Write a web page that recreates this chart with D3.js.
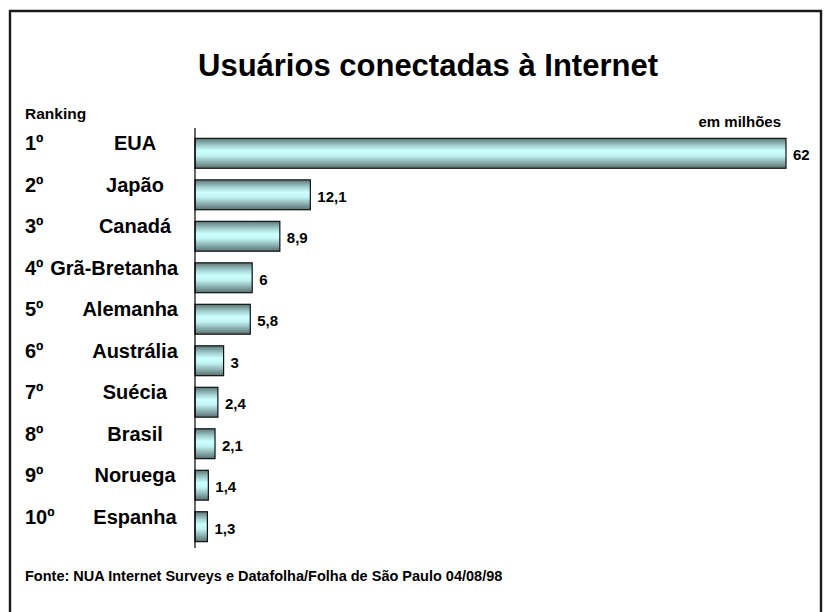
<!DOCTYPE html>
<html>
<head>
<meta charset="utf-8">
<script src="https://cdn.jsdelivr.net/npm/d3@7"></script>
<style>
  body { margin: 0; background: #fff; }
  svg text { font-family: "Liberation Sans", Arial, sans-serif; font-weight: bold; fill: #000; }
</style>
</head>
<body>
<svg id="chart"></svg>
<script>
var width = 826, height = 612;

// data (millions of users)
var ranks = ["1º", "2º", "3º", "4º", "5º", "6º", "7º", "8º", "9º", "10º"];
var countries = ["EUA", "Japão", "Canadá", "Grã-Bretanha", "Alemanha", "Austrália", "Suécia", "Brasil", "Noruega", "Espanha"];
var users = [62, 12.1, 8.9, 6, 5.8, 3, 2.4, 2.1, 1.4, 1.3];
var valueLabels = ["62", "12,1", "8,9", "6", "5,8", "3", "2,4", "2,1", "1,4", "1,3"];

var svg = d3.select("#chart").attr("width", width).attr("height", height);

// gradient used by the cylinder-like bars
var grad = svg.append("defs").append("linearGradient")
    .attr("id", "barGrad").attr("x1", 0).attr("y1", 0).attr("x2", 0).attr("y2", 1);
[[0, "#5c7474"], [0.1, "#7a9c9c"], [0.25, "#a4d2d2"], [0.42, "#ccffff"],
 [0.58, "#c2f4f4"], [0.78, "#8fb6b6"], [1, "#587070"]].forEach(function(s) {
  grad.append("stop").attr("offset", s[0]).attr("stop-color", s[1]);
});

// frame (no bottom edge visible)
svg.append("path")
   .attr("d", "M10,614 L10,11 L821,11 L821,614")
   .attr("fill", "none").attr("stroke", "#1a1a1a").attr("stroke-width", 2.4);

svg.append("text").attr("x", 428).attr("y", 76)
   .attr("text-anchor", "middle").style("font-size", "31px")
   .text("Usuários conectadas à Internet");

svg.append("text").attr("x", 25).attr("y", 119).style("font-size", "15.5px").text("Ranking");
svg.append("text").attr("x", 781).attr("y", 127).attr("text-anchor", "end")
   .style("font-size", "15px").text("em milhões");

var x = d3.scaleLinear().domain([0, 62]).range([195, 786]);
var y = d3.scaleBand().domain(countries).range([128, 552]).paddingInner(0.28).paddingOuter(0.25);

var data = countries.map(function(c, i) {
  return { country: c, rank: ranks[i], value: users[i], label: valueLabels[i] };
});

svg.append("g").selectAll("rect").data(data).enter().append("rect")
   .attr("x", x(0))
   .attr("y", function(d) { return y(d.country); })
   .attr("width", function(d) { return x(d.value) - x(0); })
   .attr("height", y.bandwidth())
   .attr("fill", "url(#barGrad)")
   .attr("stroke", "#111").attr("stroke-width", 1.2);

// vertical axis line
svg.append("line").attr("x1", 195).attr("x2", 195).attr("y1", 128).attr("y2", 548)
   .attr("stroke", "#000").attr("stroke-width", 1.2);

svg.append("g").selectAll("text").data(data).enter().append("text")
   .attr("x", function(d) { return x(d.value) + 7; })
   .attr("y", function(d) { return y(d.country) + y.bandwidth() / 2 + 7; })
   .style("font-size", "15px")
   .text(function(d) { return d.label; });

svg.append("g").selectAll("text").data(data).enter().append("text")
   .attr("x", 25)
   .attr("y", function(d) { return y(d.country) + y.bandwidth() / 2 - 3; })
   .style("font-size", "20px")
   .text(function(d) { return d.rank; });

svg.append("g").selectAll("text").data(data).enter().append("text")
   .attr("y", function(d) { return y(d.country) + y.bandwidth() / 2 - 3; })
   .style("font-size", "20px")
   .text(function(d) { return d.country; })
   .each(function() {
     var w = this.getComputedTextLength();
     var left = 135 - w / 2;
     if (left + w > 178) left = 178 - w;
     d3.select(this).attr("x", left);
   });

svg.append("text").attr("x", 25).attr("y", 581).style("font-size", "14.5px")
   .text("Fonte: NUA Internet Surveys e Datafolha/Folha de São Paulo 04/08/98");
</script>
</body>
</html>
